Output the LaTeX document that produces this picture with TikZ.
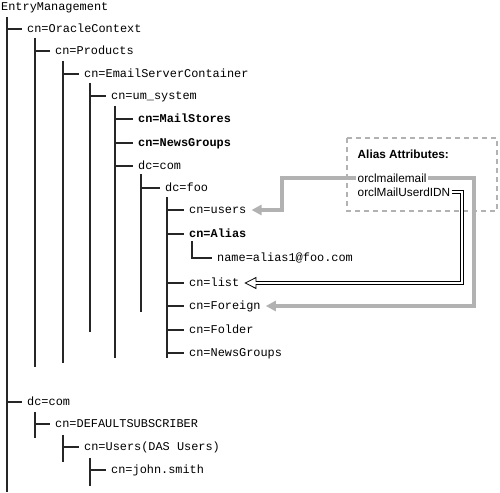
\documentclass[tikz,border=0pt]{standalone}
\usepackage{fontspec}
\setmainfont{Liberation Sans}
\setsansfont{Liberation Sans}
\setmonofont{Liberation Mono}
\usepackage{tikz}
\usepackage{xcolor}
\usetikzlibrary{arrows.meta}
\definecolor{aliasgray}{RGB}{178, 178, 178}

\begin{document}
\begin{tikzpicture}[x=1pt, y=-1pt,
    entry/.style={anchor=west, inner xsep=5pt, inner ysep=0pt, text height=7pt, text depth=0pt,
        font=\fontsize{11.9}{14}\selectfont\ttfamily},
    bentry/.style={entry, font=\fontsize{11.9}{14}\selectfont\ttfamily\bfseries},
    attr/.style={anchor=west, inner xsep=1.5pt, inner ysep=0pt, text height=8pt, text depth=0pt,
        font=\fontsize{11.8}{14}\selectfont\sffamily},
    tree/.style={line width=1.2pt, black!85},
    link/.style={line width=3.5pt, aliasgray, -{Triangle[length=10pt, width=10pt]}},
    dlink/.style={black, line width=3.6pt, shorten >=12pt},
    dgap/.style={white, line width=1.6pt, shorten >=11pt},
    dtip/.style={black, line width=0.8pt, -{Triangle[open, length=12pt, width=12pt]}}]
    \useasboundingbox (0,0) rectangle (500,492);

    % entries
    \node[entry, inner xsep=0pt] (em) at (1,7) {EntryManagement};
    \node[entry] (oc) at (22,29) {cn=OracleContext};
    \node[entry] (prod) at (50,51) {cn=Products};
    \node[entry] (esc) at (79,74) {cn=EmailServerContainer};
    \node[entry] (ums) at (106,96) {cn=um\_system};
    \node[bentry] (mstores) at (133,119) {cn=MailStores};
    \node[bentry] (ngroups) at (133,143) {cn=NewsGroups};
    \node[entry] (dccom) at (133,166) {dc=com};
    \node[entry] (dcfoo) at (160,188) {dc=foo};
    \node[entry] (users) at (184,210) {cn=users};
    \node[bentry] (alias) at (184,234) {cn=Alias};
    \node[entry] (aname) at (212,258) {name=alias1@foo.com};
    \node[entry] (list) at (184,283) {cn=list};
    \node[entry] (foreign) at (184,306) {cn=Foreign};
    \node[entry] (folder) at (184,330) {cn=Folder};
    \node[entry] (ngroupsb) at (184,353) {cn=NewsGroups};

    \node[entry] (dccomb) at (22,402) {dc=com};
    \node[entry] (dsub) at (50,424) {cn=DEFAULTSUBSCRIBER};
    \node[entry] (dusers) at (79,447) {cn=Users(DAS Users)};
    \node[entry] (john) at (106,470) {cn=john.smith};

    % vertical rails
    \coordinate (r1) at (7,17);   \coordinate (r1e) at (7,492);
    \coordinate (r2) at (35,38);  \coordinate (r2e) at (35,367);
    \coordinate (r3) at (63,61);  \coordinate (r3e) at (63,363);
    \coordinate (r4) at (90,83);  \coordinate (r4e) at (90,332);
    \coordinate (r5) at (115,106); \coordinate (r5e) at (115,358);
    \coordinate (r6) at (141,174); \coordinate (r6e) at (141,312);
    \coordinate (r7) at (167,197); \coordinate (r7e) at (167,358);
    \coordinate (ra) at (192,241);
    \coordinate (s2) at (35,412); \coordinate (s2e) at (35,438);
    \coordinate (s3) at (63,435); \coordinate (s3e) at (63,462);
    \coordinate (s4) at (90,458); \coordinate (s4e) at (90,486);

    \foreach \a/\b in {r1/r1e, r2/r2e, r3/r3e, r4/r4e, r5/r5e, r6/r6e, r7/r7e, s2/s2e, s3/s3e, s4/s4e}
        \draw[tree] (\a) -- (\b);

    % branches
    \foreach \r/\n in {r1/oc, r2/prod, r3/esc, r4/ums, r5/mstores, r5/ngroups, r5/dccom, r6/dcfoo,
            r7/users, r7/alias, r7/list, r7/foreign, r7/folder, r7/ngroupsb,
            r1/dccomb, s2/dsub, s3/dusers, s4/john}
        \draw[tree] (\r |- \n.west) -- (\n.west);
    \draw[tree] (ra) |- (aname.west);

    % alias attributes
    \draw[aliasgray, line width=2.5pt, dash pattern=on 5pt off 4pt] (347,138) rectangle (497,211);
    \node[attr, font=\fontsize{11.8}{14}\selectfont\sffamily\bfseries] (title) at (356,154) {Alias Attributes:};
    \node[attr] (mail) at (356,178) {orclmailemail};
    \node[attr] (userdn) at (356,192) {orclMailUserdIDN};

    \coordinate (ua) at (282,0);
    \coordinate (fa) at (474,0);
    \coordinate (la) at (462,0);
    \draw[link] (mail.west) -- (ua |- mail.west) |- (users.east);
    \draw[link] (mail.east) -- (fa |- mail.east) |- (foreign.east);
    \draw[dtip] (la |- list.east) -- (list.east);
    \draw[dlink] (userdn.east) -- (la |- userdn.east) |- (list.east);
    \draw[dgap] (userdn.east) -- (la |- userdn.east) |- (list.east);
\end{tikzpicture}
\end{document}
